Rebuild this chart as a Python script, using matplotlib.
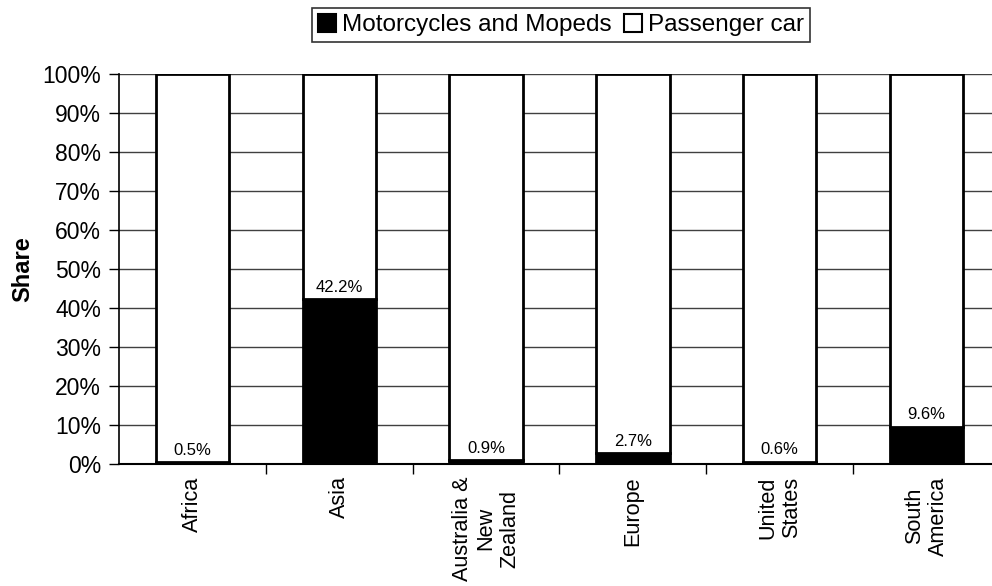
import matplotlib
matplotlib.use("Agg")
import matplotlib.pyplot as plt
from matplotlib.patches import Patch
import numpy as np

plt.rcParams['font.family'] = ['Liberation Sans', 'DejaVu Sans']

regions = ["Africa", "Asia", "Australia &\nNew\nZealand", "Europe", "United\nStates", "South\nAmerica"]
moto_share = [0.5, 42.2, 0.9, 2.7, 0.6, 9.6]
car_share = [100 - v for v in moto_share]
series_names = ["Motorcycles and Mopeds", "Passenger car"]
y_ticks = list(range(0, 101, 10))

fig = plt.figure(figsize=(9.92, 5.86), dpi=100)
ax = fig.add_axes([119 / 992, 1 - 464 / 586, 881 / 992, 390 / 586])

x = np.arange(len(regions))
ax.bar(x, moto_share, width=0.5, color="black", edgecolor="black", linewidth=2, zorder=3)
ax.bar(x, car_share, width=0.5, bottom=moto_share, color="white", edgecolor="black",
       linewidth=2, zorder=3)

for xi, v in zip(x, moto_share):
    ax.annotate(f"{v}%", (xi, v), xytext=(0, 3), textcoords="offset points",
                ha="center", va="bottom", fontsize=12, zorder=4)

ax.set_xlim(-0.5, len(regions) - 0.5)
ax.set_ylim(0, 100)
ax.set_yticks(y_ticks)
ax.set_yticklabels([f"{t}%" for t in y_ticks], fontsize=16.5)
ax.yaxis.grid(True, color="#404040", linewidth=1, zorder=0)
ax.set_axisbelow(True)

ax.set_xticks(x)
ax.set_xticklabels(regions, rotation=90, fontsize=15.6, ha="center", va="top",
                   multialignment="center", linespacing=1.15)
ax.tick_params(axis="x", which="major", length=0, pad=9)
ax.set_xticks(np.arange(0.5, len(regions) - 0.5, 1), minor=True)
ax.tick_params(axis="x", which="minor", length=7, width=1, color="black")
ax.tick_params(axis="y", length=7, width=1, color="black", pad=6)

for side in ["top", "right"]:
    ax.spines[side].set_visible(False)
ax.spines["left"].set_linewidth(1.2)
ax.spines["bottom"].set_linewidth(1.5)

ax.set_ylabel("Share", fontsize=17, fontweight="bold", labelpad=6)

handles = [Patch(facecolor="black", edgecolor="black", linewidth=1.5),
           Patch(facecolor="white", edgecolor="black", linewidth=1.5)]
leg = fig.legend(handles, series_names, loc="center", bbox_to_anchor=(561 / 992, 1 - 25 / 586),
                 ncol=2, fontsize=17.5, frameon=True, fancybox=False, handlelength=0.75,
                 handleheight=0.75, handletextpad=0.25, columnspacing=0.5, borderpad=0.25,
                 borderaxespad=0)
leg.get_frame().set_edgecolor("black")
leg.get_frame().set_linewidth(1.2)

fig.savefig("out.png", dpi=100)
